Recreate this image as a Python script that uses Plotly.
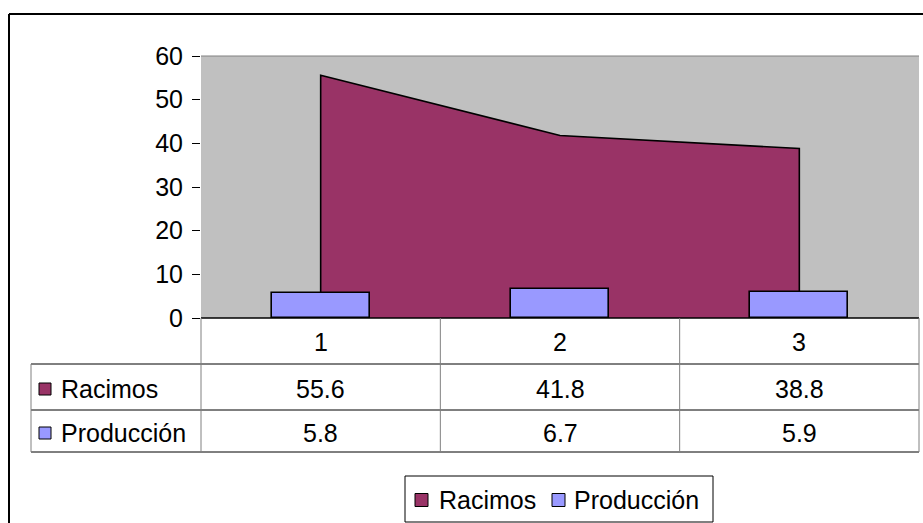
import plotly.graph_objects as go

# Data
categories = [1, 2, 3]
racimos = [55.6, 41.8, 38.8]
produccion = [5.8, 6.7, 5.9]
series_names = ["Racimos", "Producción"]
y_ticks = [0, 10, 20, 30, 40, 50, 60]

W, H = 923, 523
FONT = "Liberation Sans, Arial, sans-serif"
FS = 25
C_RAC = "#993366"
C_PROD = "#9999FF"
GRAY = "#808080"


def px(x):
    return x / W


def py(y):
    return 1 - y / H


# plot-area geometry (pixels)
PL, PR, PT, PB = 201, 919, 56, 318
ROW_Y = [PB, 364, 410, 452]   # table row edges
TBL_L = 31

fig = go.Figure()

# Racimos as a closed area from the first to the last category
area_x = [categories[0]] + categories + [categories[-1]]
area_y = [0] + racimos + [0]
fig.add_trace(go.Scatter(
    x=area_x, y=area_y, mode="lines", fill="toself",
    fillcolor=C_RAC, line=dict(color="black", width=1.6),
    name=series_names[0], showlegend=False, hoverinfo="skip", zorder=0,
))

# Producción as columns in front of the area
fig.add_trace(go.Bar(
    x=categories, y=produccion, width=0.41,
    marker=dict(color=C_PROD, line=dict(color="black", width=1.6)),
    name=series_names[1], showlegend=False, zorder=1,
))

shapes = []
annotations = []

# plot border: top gray line
shapes.append(dict(type="line", xref="paper", yref="paper",
                   x0=px(PL), x1=px(PR), y0=py(PT), y1=py(PT),
                   line=dict(color=GRAY, width=1)))
# category axis line (black)
shapes.append(dict(type="line", xref="paper", yref="paper",
                   x0=px(PL), x1=px(PR), y0=py(PB), y1=py(PB),
                   line=dict(color="black", width=1.5)))

# data table: horizontal rules
for ry in ROW_Y[1:]:
    shapes.append(dict(type="line", xref="paper", yref="paper",
                       x0=px(TBL_L), x1=px(PR), y0=py(ry), y1=py(ry),
                       line=dict(color="black", width=1)))
# data table: vertical rules
for vx in [PL, PR]:
    shapes.append(dict(type="line", xref="paper", yref="paper",
                       x0=px(vx), x1=px(vx), y0=py(PB), y1=py(ROW_Y[-1]),
                       line=dict(color=GRAY, width=1)))
shapes.append(dict(type="line", xref="paper", yref="paper",
                   x0=px(TBL_L), x1=px(TBL_L), y0=py(ROW_Y[1]), y1=py(ROW_Y[-1]),
                   line=dict(color=GRAY, width=1)))
for i in range(len(categories) - 1):
    bx = (categories[i] + categories[i + 1]) / 2
    shapes.append(dict(type="line", xref="x", yref="paper",
                       x0=bx, x1=bx, y0=py(PB), y1=py(ROW_Y[-1]),
                       line=dict(color=GRAY, width=1)))


def text(x, y, s, xref="paper", xanchor="center"):
    annotations.append(dict(x=x, y=y, xref=xref, yref="paper", text=s,
                            showarrow=False, xanchor=xanchor, yanchor="middle",
                            font=dict(family=FONT, size=FS, color="black")))


def key(x0, yc, color, size=12):
    shapes.append(dict(type="rect", xref="paper", yref="paper",
                       x0=px(x0), x1=px(x0 + size),
                       y0=py(yc + size / 2), y1=py(yc - size / 2),
                       fillcolor=color, line=dict(color="black", width=1)))


# header row with category labels
hy = (ROW_Y[0] + ROW_Y[1]) / 2 + 1
for c in categories:
    text(c, py(hy), str(c), xref="x")

# series rows
row_data = [racimos, produccion]
row_colors = [C_RAC, C_PROD]
for r, (name, vals, col) in enumerate(zip(series_names, row_data, row_colors)):
    yc = (ROW_Y[r + 1] + ROW_Y[r + 2]) / 2 + 2
    key(39, yc, col)
    text(px(59), py(yc), name, xanchor="left")
    for c, v in zip(categories, vals):
        text(c, py(yc), f"{v:.1f}", xref="x")

# legend box
LG_L, LG_R, LG_T, LG_B = 405, 713, 476, 522
shapes.append(dict(type="rect", xref="paper", yref="paper",
                   x0=px(LG_L), x1=px(LG_R), y0=py(LG_B), y1=py(LG_T),
                   line=dict(color="black", width=1), fillcolor="rgba(0,0,0,0)"))
ly = (LG_T + LG_B) / 2 + 1
key(415, ly, C_RAC, 13)
text(px(437), py(ly), series_names[0], xanchor="left")
key(552, ly, C_PROD, 13)
text(px(572), py(ly), series_names[1], xanchor="left")

# outer chart frame
shapes.append(dict(type="line", xref="paper", yref="paper",
                   x0=px(9), x1=1.0, y0=py(14), y1=py(14),
                   line=dict(color="black", width=2)))
shapes.append(dict(type="line", xref="paper", yref="paper",
                   x0=px(9), x1=px(9), y0=py(14), y1=0.0,
                   line=dict(color="black", width=2)))

fig.update_layout(
    width=W, height=H,
    margin=dict(l=0, r=0, t=0, b=0, pad=0, autoexpand=False),
    paper_bgcolor="white",
    plot_bgcolor="#C0C0C0",
    showlegend=False,
    bargap=0,
    shapes=shapes,
    annotations=annotations,
    xaxis=dict(domain=[px(PL), px(PR)], range=[0.5, 3.5],
               showticklabels=False, showgrid=False, zeroline=False,
               showline=False, ticks="", fixedrange=True),
    yaxis=dict(domain=[py(PB), py(PT)], range=[0, 60],
               tickvals=y_ticks, ticks="outside", ticklen=8,
               tickcolor="black", tickwidth=1,
               showline=True, linecolor=GRAY, linewidth=1, mirror=True,
               showgrid=False, zeroline=False, ticklabelstandoff=4,
               tickfont=dict(family=FONT, size=FS, color="black"),
               fixedrange=True),
)

fig.write_html("out.html")
